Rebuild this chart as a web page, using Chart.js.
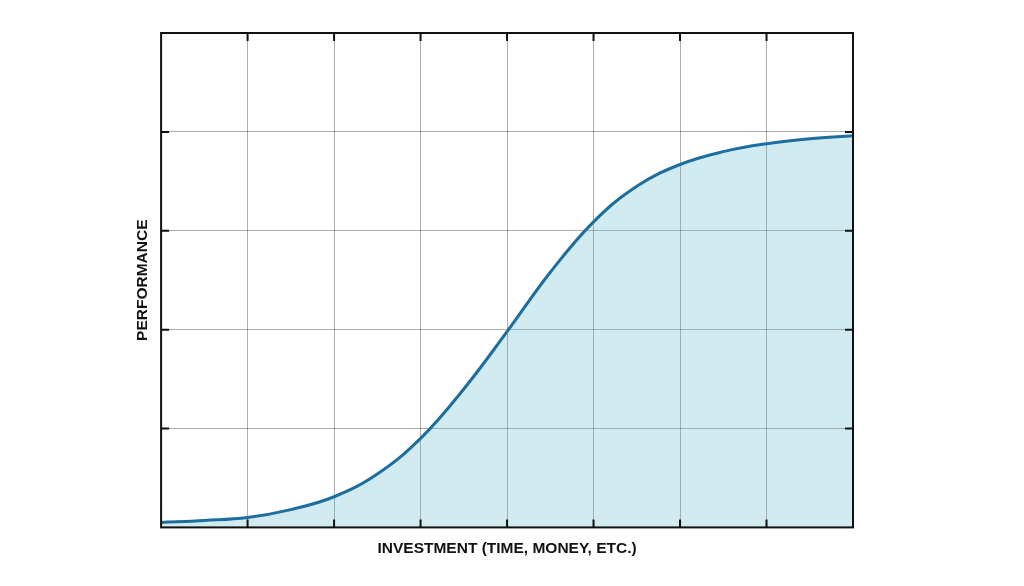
<!DOCTYPE html>
<html>
<head>
<meta charset="utf-8">
<script src="https://cdn.jsdelivr.net/npm/chart.js@4/dist/chart.umd.min.js"></script>
<style>
  html, body { margin: 0; padding: 0; background: #fff; }
</style>
</head>
<body>
<canvas id="sCurve" width="1024" height="586"></canvas>
<script>
// investment (grid units) vs performance (grid units)
const investment = [0, 0.5, 1, 1.5, 2, 2.5, 3, 3.5, 4, 4.5, 5, 5.5, 6, 6.5, 7, 7.5, 8];
const performance = [0.05, 0.07, 0.1, 0.18, 0.31, 0.54, 0.9, 1.4, 1.98, 2.58, 3.09, 3.45, 3.67, 3.8, 3.88, 3.93, 3.96];
const xTicks = [1, 2, 3, 4, 5, 6, 7];
const yTicks = [1, 2, 3, 4];
const xTitle = 'INVESTMENT (TIME, MONEY, ETC.)';
const yTitle = 'PERFORMANCE';

const points = investment.map((x, i) => ({ x: x, y: performance[i] }));

// frame + inward tick marks
const framePlugin = {
  id: 'frame',
  afterDraw(chart) {
    const { ctx, chartArea: a, scales } = chart;
    const len = 8;
    ctx.save();
    ctx.strokeStyle = '#111';
    ctx.lineWidth = 2;
    ctx.strokeRect(a.left, a.top, a.right - a.left, a.bottom - a.top);
    ctx.beginPath();
    xTicks.forEach((v) => {
      const px = scales.x.getPixelForValue(v);
      ctx.moveTo(px, a.bottom); ctx.lineTo(px, a.bottom - len);
      ctx.moveTo(px, a.top); ctx.lineTo(px, a.top + len);
    });
    yTicks.forEach((v) => {
      const py = scales.y.getPixelForValue(v);
      ctx.moveTo(a.left, py); ctx.lineTo(a.left + len, py);
      ctx.moveTo(a.right, py); ctx.lineTo(a.right - len, py);
    });
    ctx.stroke();
    ctx.restore();
  }
};

const titleFont = { family: 'Liberation Sans', size: 15.5, weight: 'bold' };

new Chart(document.getElementById('sCurve'), {
  type: 'line',
  data: {
    datasets: [{
      data: points,
      borderColor: '#1b6e9e',
      borderWidth: 3,
      backgroundColor: 'rgba(100, 185, 205, 0.29)',
      fill: 'origin',
      pointRadius: 0,
      tension: 0.4,
    }],
  },
  options: {
    responsive: false,
    animation: false,
    layout: { padding: { top: 33, right: 171, bottom: 28, left: 133 } },
    plugins: { legend: { display: false }, tooltip: { enabled: false } },
    scales: {
      x: {
        type: 'linear',
        min: 0,
        max: 8,
        ticks: { display: false, stepSize: 1 },
        grid: { color: 'rgba(0,0,0,0.32)', lineWidth: 1, drawTicks: false },
        border: { display: false },
        title: { display: true, text: xTitle, color: '#111', font: titleFont, padding: { top: 12, bottom: 0 } },
      },
      y: {
        min: 0,
        max: 5,
        ticks: { display: false, stepSize: 1 },
        grid: { color: 'rgba(0,0,0,0.32)', lineWidth: 1, drawTicks: false },
        border: { display: false },
        title: { display: true, text: yTitle, color: '#111', font: titleFont, padding: { top: 0, bottom: 9.5 } },
      },
    },
  },
  plugins: [framePlugin],
});
</script>
</body>
</html>
